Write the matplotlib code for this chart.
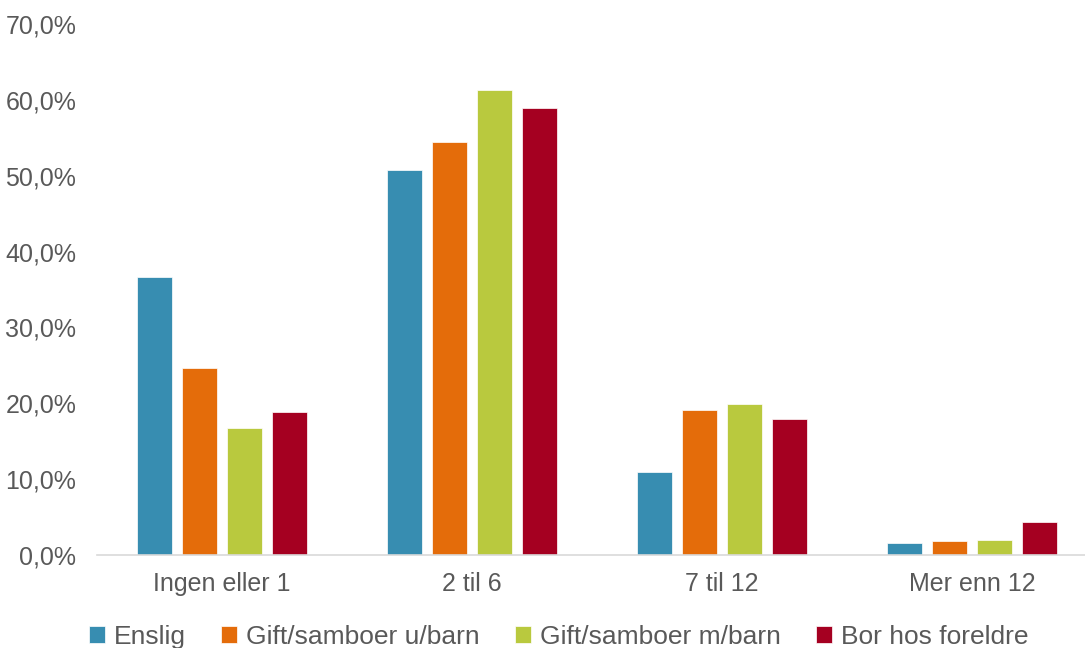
import numpy as np
import matplotlib.pyplot as plt
from matplotlib.ticker import FuncFormatter

plt.rcParams['font.family'] = ['Liberation Sans', 'DejaVu Sans']

categories = ['Ingen eller 1', '2 til 6', '7 til 12', 'Mer enn 12']
series_names = ['Enslig', 'Gift/samboer u/barn', 'Gift/samboer m/barn', 'Bor hos foreldre']
enslig = [36.7, 50.7, 10.9, 1.6]
gift_u_barn = [24.6, 54.5, 19.1, 1.8]
gift_m_barn = [16.8, 61.3, 19.9, 2.0]
bor_hos = [18.9, 58.9, 17.9, 4.3]
colors = ['#378DB1', '#E46C0A', '#B9C93E', '#A50021']

fig = plt.figure(figsize=(10.85, 6.48), dpi=100)
# axes run a bit past the right edge, like the original
ax = fig.add_axes([0.0894, 0.1435, 1000 / 1085, 0.8195])

x = np.arange(len(categories))
width = 0.142
step = 0.18
for i, (name, vals) in enumerate(zip(series_names, [enslig, gift_u_barn, gift_m_barn, bor_hos])):
    ax.bar(x + (i - 1.5) * step, vals, width, color=colors[i], label=name,
           edgecolor='white', linewidth=0.5)

ax.set_ylim(0, 70)
ax.set_xlim(-0.5, len(categories) - 0.5)
ax.set_yticks(np.arange(0, 71, 10))
ax.yaxis.set_major_formatter(FuncFormatter(lambda v, p: f'{v:.1f}%'.replace('.', ',')))
ax.set_xticks(x)
ax.set_xticklabels(categories)
ax.tick_params(axis='both', length=0, labelsize=18, colors='#595959')
ax.tick_params(axis='x', pad=12)
ax.tick_params(axis='y', pad=15)
for s in ['top', 'right', 'left']:
    ax.spines[s].set_visible(False)
ax.spines['bottom'].set_color('#D9D9D9')
ax.spines['bottom'].set_linewidth(1.2)

fig.legend(loc='lower center', ncol=4, frameon=False, fontsize=19,
           handlelength=0.6, handleheight=0.6, handletextpad=0.35,
           columnspacing=1.33, bbox_to_anchor=(0.515, -0.038),
           labelcolor='#595959')

fig.savefig('out.png', dpi=100)
